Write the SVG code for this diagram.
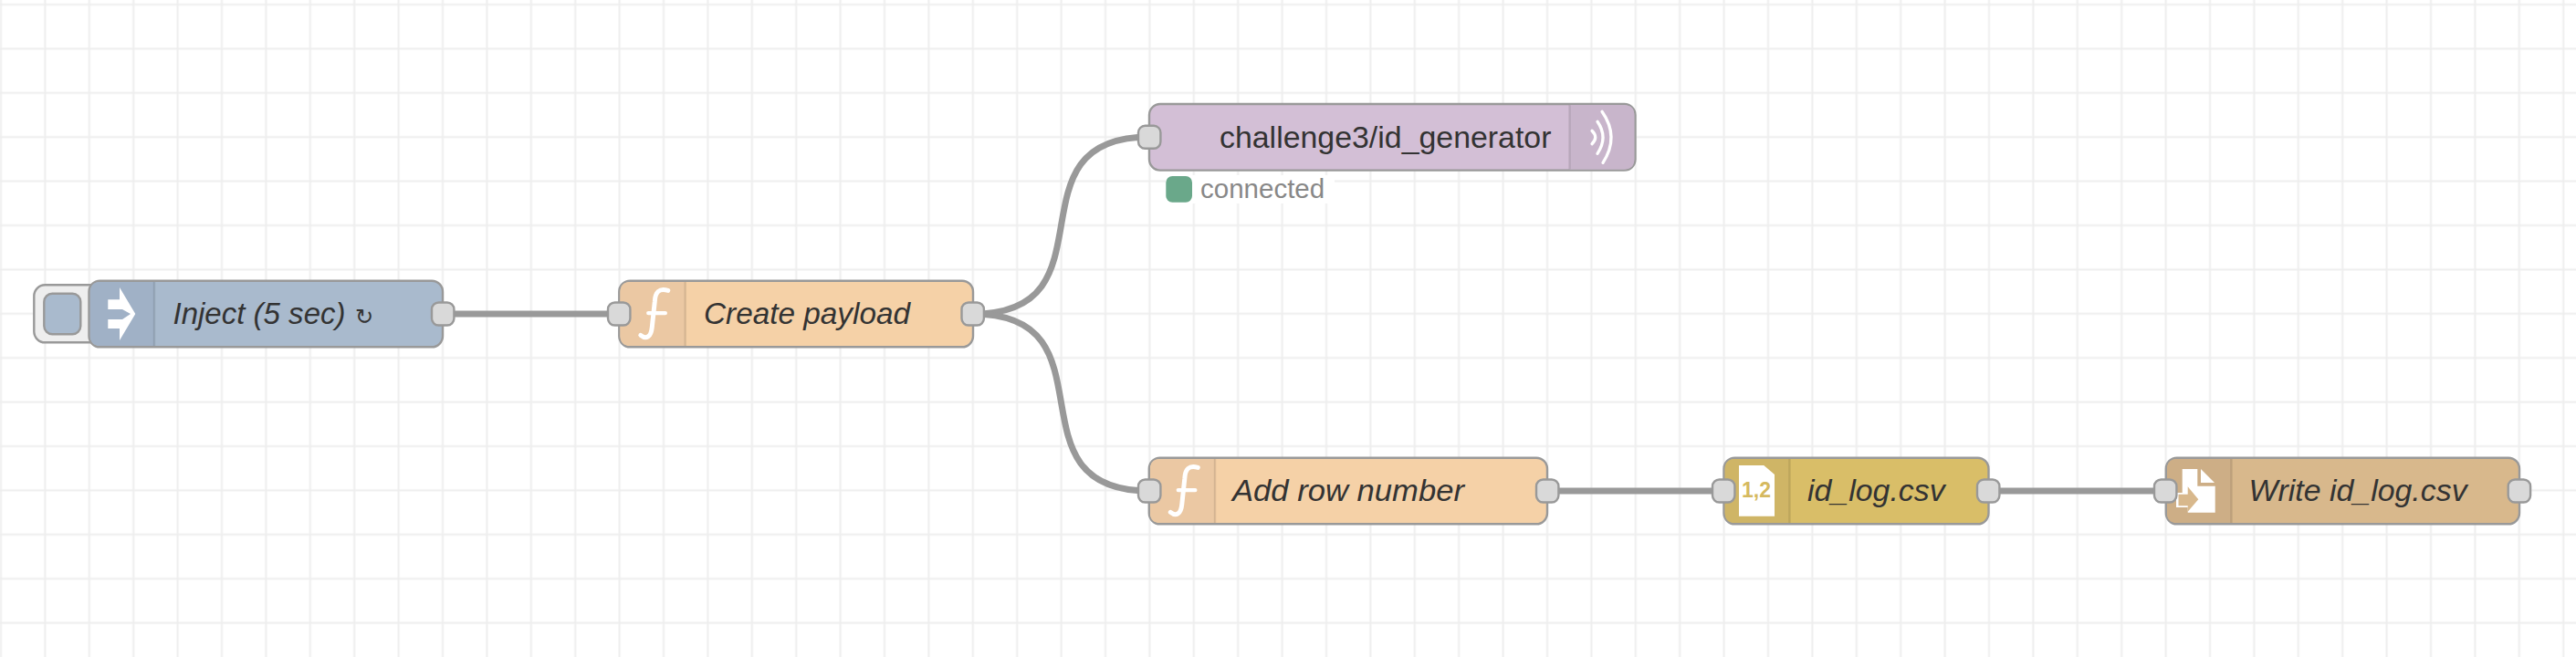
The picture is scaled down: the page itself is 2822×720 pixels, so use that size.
<svg xmlns="http://www.w3.org/2000/svg" width="2822" height="720" viewBox="0 0 2822 720">
<style>
.body{stroke:#999;stroke-width:2.4}
.shade{stroke:none}
.div{stroke:#000;stroke-opacity:.1;stroke-width:2.4;fill:none}
.port{fill:#d9d9d9;stroke:#999;stroke-width:2.4}
.label{font-family:"Liberation Sans",Arial,sans-serif;font-size:33.88px;fill:#333}
.it{font-style:italic}
.status{font-family:"Liberation Sans",Arial,sans-serif;font-size:29.5px;fill:#888}
.wire{fill:none;stroke:#999;stroke-width:7}
.ico{fill:#fff}
.icol{fill:none;stroke:#fff;stroke-linecap:round}
</style>
<defs>
<pattern id="grid" patternUnits="userSpaceOnUse" x="-23.2" y="-19.2" width="48.4" height="48.4">
<path d="M24.2 0V48.4M0 24.2H48.4" stroke="#eee" stroke-width="2" fill="none"/>
</pattern>
<rect id="p" width="24.4" height="25" rx="7.5" ry="7.5"/>
<g id="fn">
<path class="icol" stroke-width="5" d="M53 11C43 8 39 13 38.5 23L35.5 51C34.5 62 29 65 23 60"/>
<path class="icol" stroke-width="4.4" stroke-linecap="butt" d="M31.5 35.700H50"/>
</g>
</defs>
<rect width="2822" height="720" fill="#fff"/>
<rect width="2822" height="720" fill="url(#grid)"/>
<g id="connectors">
<path class="wire" d="M485 344H678"/>
<path class="wire" d="M1066 344C1226 344 1099 150 1259 150"/>
<path class="wire" d="M1066 344C1226 344 1099 538 1259 538"/>
<path class="wire" d="M1695 538H1889"/>
<path class="wire" d="M2178 538H2373"/>
</g>
<g id="inject">
<rect x="37.300" y="312.300" width="80" height="63" rx="12" fill="#eee" stroke="#999" stroke-width="2.400"/>
<rect x="48.300" y="321.800" width="40" height="44.400" rx="9" fill="#a9bacd" stroke="#999" stroke-width="2.400"/>
<rect class="body" x="97.500" y="307.700" width="387.500" height="72.600" rx="12" fill="#a9bacd"/>
<path class="shade" fill="#a0b1c6" d="M109.500 309H169V379H109.500Q99 379 99 368V320Q99 309 109.500 309Z"/>
<path class="div" d="M169 309V379"/>
<path class="ico" d="M131 315L148.300 344L131 373V360H118.300V350H134L143 344L134 339H118.300V328.300H131Z"/>
<text class="label it" x="189.500" y="354.500"><tspan textLength="189" lengthAdjust="spacingAndGlyphs">Inject (5 sec)</tspan><tspan x="389" font-size="24px" font-style="normal" font-family="DejaVu Sans,sans-serif">↻</tspan></text>
<use href="#p" class="port" x="473" y="331.500"/>
</g>
<g id="create-payload">
<rect class="body" x="678.300" y="307.700" width="387.700" height="72.600" rx="12" fill="#f5d1a7"/>
<path class="shade" fill="#ebc8a3" d="M690.300 309H750.700V379H690.300Q679.500 379 679.500 368V320Q679.500 309 690.300 309Z"/>
<path class="div" d="M750.700 309V379"/>
<use href="#fn" x="678.800" y="307.400"/>
<text class="label it" x="771" y="354.500" textLength="226" lengthAdjust="spacingAndGlyphs">Create payload</text>
<use href="#p" class="port" x="666" y="331.500"/>
<use href="#p" class="port" x="1053.500" y="331.500"/>
</g>
<g id="mqtt-out">
<rect x="1277" y="192" width="185" height="31" fill="#fff"/>
<rect class="body" x="1259" y="114" width="532.500" height="72.600" rx="12" fill="#d3bfd6"/>
<path class="shade" fill="#c8b5cb" d="M1719.500 115.200H1780Q1790.300 115.200 1790.300 126V174.500Q1790.300 185.400 1780 185.400H1719.500Z"/>
<path class="div" d="M1719.500 115.200V185.400"/>
<path class="icol" stroke-width="3.300" d="M1744 143.300Q1751.400 150.500 1744 157.700M1750 133.300Q1762 150.500 1750 168.300M1755 122.300Q1774.500 150 1756 178.300"/>
<text class="label" x="1336" y="161.500">challenge3/id_generator</text>
<use href="#p" class="port" x="1247" y="137.800"/>
<rect x="1277.300" y="193" width="28.700" height="28.700" rx="7" fill="#6aa88a"/>
<text class="status" x="1315" y="217">connected</text>
</g>
<g id="add-row">
<rect class="body" x="1258.800" y="501.700" width="436.200" height="72.600" rx="12" fill="#f5d1a7"/>
<path class="shade" fill="#ebc8a3" d="M1270.800 503H1331V573H1270.800Q1260 573 1260 562V514Q1260 503 1270.800 503Z"/>
<path class="div" d="M1331 503V573"/>
<use href="#fn" x="1259.300" y="501.400"/>
<text class="label it" x="1350" y="548.500" textLength="254" lengthAdjust="spacingAndGlyphs">Add row number</text>
<use href="#p" class="port" x="1247" y="525.500"/>
<use href="#p" class="port" x="1683" y="525.500"/>
</g>
<g id="csv">
<rect class="body" x="1888.500" y="501.700" width="290" height="72.600" rx="12" fill="#d9be68"/>
<path class="shade" fill="#cfb566" d="M1900.500 503H1960.500V573H1900.500Q1889.700 573 1889.700 562V514Q1889.700 503 1900.500 503Z"/>
<path class="div" d="M1960.500 503V573"/>
<path class="ico" d="M1905 510H1932.300L1944 520V565.700H1905Z"/>
<text x="1908" y="545" font-family="Liberation Sans,Arial,sans-serif" font-weight="bold" font-size="23" fill="#d5b95f">1,2</text>
<text class="label it" x="1980" y="548.500">id_log.csv</text>
<use href="#p" class="port" x="1876" y="525.500"/>
<use href="#p" class="port" x="2166" y="525.500"/>
</g>
<g id="write-file">
<rect class="body" x="2372.800" y="501.700" width="387.200" height="72.600" rx="12" fill="#d8b88c"/>
<path class="shade" fill="#cdae86" d="M2384.800 503H2444.500V573H2384.800Q2374 573 2374 562V514Q2374 503 2384.800 503Z"/>
<path class="div" d="M2444.500 503V573"/>
<path class="ico" d="M2390.700 514H2407.300V532.700H2426.700V561.700H2396.700V556H2390.700V540H2384V556H2390.700Z"/>
<path class="ico" d="M2411 514L2426 529H2411Z"/>
<path fill="#d8b88c" d="M2386.500 541.700H2396.700V533.300L2408.300 547.300L2396.700 560.700V554.300H2386.500Z"/>
<text class="label it" x="2463.500" y="548.500">Write id_log.csv</text>
<use href="#p" class="port" x="2360" y="525.500"/>
<use href="#p" class="port" x="2747.700" y="525.500"/>
</g>
</svg>
